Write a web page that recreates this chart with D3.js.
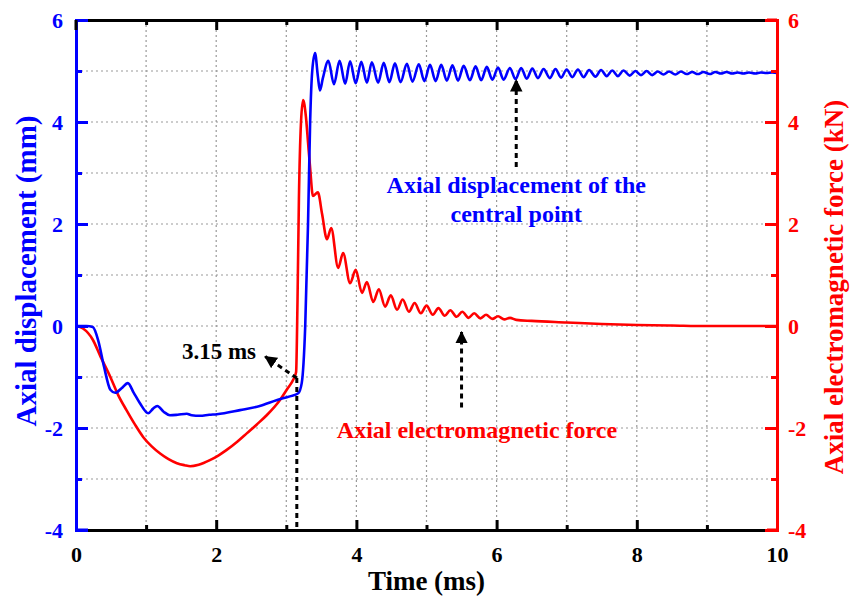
<!DOCTYPE html>
<html>
<head>
<meta charset="utf-8">
<script src="https://d3js.org/d3.v7.min.js"></script>
<style>
  body { margin: 0; background: #fff; }
  svg text { font-family: "Liberation Serif", "Times New Roman", serif; font-weight: bold; }
</style>
</head>
<body>
<div id="chart"></div>
<script>
// time ticks (ms) and value ticks shared by both y axes
var timeTicks = [0, 2, 4, 6, 8, 10];
var valueTicks = [-4, -2, 0, 2, 4, 6];

// axial displacement of the central point (mm)
var displacement = [
  [0, 0], [0.15, 0], [0.24, -0.02], [0.32, -0.3], [0.4, -0.8], [0.49, -1.25], [0.56, -1.31],
  [0.65, -1.22], [0.74, -1.12], [0.82, -1.3], [0.91, -1.51], [1.03, -1.71], [1.1, -1.62],
  [1.16, -1.57], [1.25, -1.68], [1.34, -1.75], [1.45, -1.74], [1.58, -1.72], [1.65, -1.75],
  [1.77, -1.76], [1.9, -1.74], [2.01, -1.73], [2.34, -1.65], [2.62, -1.57], [2.87, -1.45],
  [3.05, -1.38], [3.17, -1.32], [3.22, -1.12], [3.27, 0], [3.31, 2.0], [3.34, 4.0],
  [3.37, 5.0], [3.41, 5.35], [3.45, 4.9], [3.48, 4.62], [3.52, 4.85], [3.6, 5.2],
  [3.68, 4.74], [3.76, 5.2], [3.84, 4.75], [3.91, 5.19], [3.99, 4.76], [4.07, 5.18],
  [4.15, 4.77], [4.22, 5.17], [4.31, 4.77], [4.39, 5.16], [4.47, 4.78], [4.55, 5.15],
  [4.63, 4.78], [4.72, 5.14], [4.8, 4.79], [4.89, 5.13], [4.97, 4.8], [5.05, 5.12],
  [5.13, 4.8], [5.21, 5.12], [5.29, 4.81], [5.37, 5.11], [5.45, 4.81], [5.53, 5.1],
  [5.62, 4.82], [5.7, 5.09], [5.78, 4.82], [5.86, 5.08], [5.94, 4.83], [6.02, 5.07],
  [6.1, 4.83], [6.19, 5.06], [6.27, 4.84], [6.35, 5.06], [6.43, 4.85], [6.51, 5.05],
  [6.59, 4.86], [6.67, 5.04], [6.76, 4.86], [6.84, 5.04], [6.92, 4.87], [7.0, 5.03],
  [7.08, 4.88], [7.16, 5.03], [7.24, 4.88], [7.32, 5.02], [7.41, 4.89], [7.49, 5.02],
  [7.57, 4.9], [7.65, 5.01], [7.73, 4.9], [7.81, 5.01], [7.9, 4.91], [7.98, 5.0],
  [8.06, 4.92], [8.14, 5.0], [8.22, 4.92], [8.3, 4.99], [8.38, 4.93], [8.46, 4.99],
  [8.55, 4.93], [8.63, 4.99], [8.71, 4.94], [8.79, 4.98], [8.87, 4.94], [8.95, 4.98],
  [9.04, 4.94], [9.12, 4.98], [9.2, 4.95], [9.28, 4.98], [9.36, 4.95], [9.44, 4.97],
  [9.52, 4.95], [9.6, 4.97], [9.69, 4.95], [9.77, 4.97], [9.85, 4.96], [9.93, 4.97], [10, 4.96]
];

// axial electromagnetic force (kN)
var force = [
  [0, 0], [0.1, -0.05], [0.24, -0.27], [0.35, -0.6], [0.49, -1.0], [0.6, -1.35], [0.72, -1.65],
  [0.84, -1.93], [0.96, -2.18], [1.08, -2.36], [1.2, -2.5], [1.32, -2.61], [1.44, -2.69],
  [1.55, -2.73], [1.63, -2.75], [1.75, -2.72], [1.91, -2.63], [2.03, -2.54], [2.15, -2.43],
  [2.3, -2.27], [2.44, -2.1], [2.58, -1.93], [2.72, -1.75], [2.91, -1.45], [3.02, -1.22],
  [3.1, -1.05], [3.14, -0.9], [3.16, 0.5], [3.18, 2.5], [3.21, 4.0], [3.24, 4.43],
  [3.28, 4.1], [3.31, 3.6], [3.34, 3.1], [3.38, 2.55], [3.45, 2.62], [3.51, 2.2],
  [3.58, 1.7], [3.64, 1.92], [3.74, 1.14], [3.81, 1.43], [3.91, 0.84], [3.99, 1.1],
  [4.08, 0.65], [4.15, 0.86], [4.24, 0.47], [4.32, 0.72], [4.41, 0.38], [4.49, 0.6],
  [4.58, 0.32], [4.66, 0.52], [4.75, 0.28], [4.83, 0.45], [4.92, 0.25], [5.0, 0.4],
  [5.09, 0.22], [5.17, 0.35], [5.26, 0.2], [5.34, 0.31], [5.43, 0.18], [5.51, 0.28],
  [5.6, 0.16], [5.68, 0.25], [5.77, 0.15], [5.85, 0.22], [5.94, 0.14], [6.02, 0.19],
  [6.11, 0.13], [6.19, 0.16], [6.28, 0.12], [6.5, 0.1], [7.0, 0.07], [7.5, 0.04],
  [8.0, 0.02], [8.5, 0.01], [9.0, 0], [10, 0]
];

var W = 856, H = 603;
var m = { left: 76, top: 20, right: 79, bottom: 73 };
var iw = W - m.left - m.right, ih = H - m.top - m.bottom;
var BLUE = "#0000ff", RED = "#ff0000";
var FONT = "'Liberation Serif', 'Times New Roman', serif";

var svg = d3.select("#chart").append("svg").attr("width", W).attr("height", H);
var g = svg.append("g").attr("transform", "translate(" + m.left + "," + m.top + ")");

var x = d3.scaleLinear().domain([0, 10]).range([0, iw]);
var y = d3.scaleLinear().domain([-4, 6]).range([ih, 0]);   // mm, left
var y2 = d3.scaleLinear().domain([-4, 6]).range([ih, 0]);  // kN, right
var fmt = function(d) { return String(d); };

// dotted grid
var grid = g.append("g").attr("stroke", "#999").attr("stroke-width", 1.2).attr("stroke-dasharray", "2,3");
d3.range(1, 10).forEach(function(t) {
  grid.append("line").attr("x1", x(t)).attr("x2", x(t)).attr("y1", 0).attr("y2", ih);
});
d3.range(-3, 6).forEach(function(v) {
  grid.append("line").attr("x1", 0).attr("x2", iw).attr("y1", y(v)).attr("y2", y(v));
});

// curves
var line = d3.line().curve(d3.curveMonotoneX).x(function(d) { return x(d[0]); });
g.append("path").datum(force).attr("fill", "none").attr("stroke", RED).attr("stroke-width", 2.6)
  .attr("d", line.y(function(d) { return y2(d[1]); }));
g.append("path").datum(displacement).attr("fill", "none").attr("stroke", BLUE).attr("stroke-width", 2.6)
  .attr("d", line.y(function(d) { return y(d[1]); }));

// axes: bottom and top black, left blue, right red, inward ticks
var xb = g.append("g").attr("transform", "translate(0," + ih + ")")
  .call(d3.axisBottom(x).tickValues(timeTicks).tickSize(-10).tickPadding(16).tickFormat(fmt));
var xminor = g.append("g").attr("transform", "translate(0," + ih + ")")
  .call(d3.axisBottom(x).tickValues([1, 3, 5, 7, 9]).tickSize(-5).tickFormat(""));
var xt = g.append("g").call(d3.axisTop(x).tickValues(timeTicks).tickSize(-10).tickFormat(""));
var xtm = g.append("g").call(d3.axisTop(x).tickValues([1, 3, 5, 7, 9]).tickSize(-5).tickFormat(""));
[xb, xminor, xt, xtm].forEach(function(a) {
  a.select(".domain").attr("stroke", "#000").attr("stroke-width", 3);
  a.selectAll(".tick line").attr("stroke", "#000").attr("stroke-width", 3);
});
xb.selectAll(".tick text").attr("fill", "#000").attr("font-size", 22).attr("font-family", FONT);

var yl = g.append("g").call(d3.axisLeft(y).tickValues(valueTicks).tickSize(-12).tickPadding(13).tickFormat(fmt));
var ylm = g.append("g").call(d3.axisLeft(y).tickValues([-3, -1, 1, 3, 5]).tickSize(-6).tickFormat(""));
[yl, ylm].forEach(function(a) {
  a.select(".domain").attr("stroke", BLUE).attr("stroke-width", 3);
  a.selectAll(".tick line").attr("stroke", BLUE).attr("stroke-width", 3);
});
yl.selectAll(".tick text").attr("fill", BLUE).attr("font-size", 22).attr("dy", "0.36em").attr("font-family", FONT);

var yr = g.append("g").attr("transform", "translate(" + iw + ",0)")
  .call(d3.axisRight(y2).tickValues(valueTicks).tickSize(-12).tickPadding(11).tickFormat(fmt));
var yrm = g.append("g").attr("transform", "translate(" + iw + ",0)")
  .call(d3.axisRight(y2).tickValues([-3, -1, 1, 3, 5]).tickSize(-6).tickFormat(""));
[yr, yrm].forEach(function(a) {
  a.select(".domain").attr("stroke", RED).attr("stroke-width", 3);
  a.selectAll(".tick line").attr("stroke", RED).attr("stroke-width", 3);
});
yr.selectAll(".tick text").attr("fill", RED).attr("font-size", 22).attr("dy", "0.36em").attr("font-family", FONT);

// corner pieces of the frame
var corner = g.append("g").attr("stroke-width", 3).attr("fill", "none");
corner.append("path").attr("stroke", "#000").attr("d", "M0,0 V10");
corner.append("path").attr("stroke", BLUE).attr("d", "M0," + ih + " H12");
corner.append("path").attr("stroke", RED).attr("d", "M" + (iw - 10) + ",0 H" + iw);
corner.append("path").attr("stroke", RED).attr("d", "M" + (iw - 10) + "," + ih + " H" + iw);

// axis titles
svg.append("text").attr("x", m.left + iw / 2).attr("y", 590).attr("text-anchor", "middle")
  .attr("font-size", 27).attr("fill", "#000").text("Time (ms)");
svg.append("text").attr("transform", "translate(36," + (m.top + ih / 2 - 4) + ") rotate(-90)")
  .attr("text-anchor", "middle").attr("font-size", 29).attr("fill", BLUE).text("Axial displacement (mm)");
svg.append("text").attr("transform", "translate(843," + (m.top + ih / 2 + 12) + ") rotate(-90)")
  .attr("text-anchor", "middle").attr("font-size", 27).attr("fill", RED).text("Axial electromagnetic force (kN)");

// annotations
svg.append("defs").append("marker").attr("id", "head").attr("viewBox", "0 0 10 10")
  .attr("refX", 9).attr("refY", 5).attr("markerWidth", 4.2).attr("markerHeight", 4.2)
  .attr("markerUnits", "strokeWidth").attr("orient", "auto")
  .append("path").attr("d", "M0,0 L10,5 L0,10 Z").attr("fill", "#000");

function dashed(x1, y1, x2, y2, arrow) {
  var l = g.append("line").attr("x1", x1).attr("y1", y1).attr("x2", x2).attr("y2", y2)
    .attr("stroke", "#000").attr("stroke-width", 3).attr("stroke-dasharray", "5,4");
  if (arrow) l.attr("marker-end", "url(#head)");
}
// 3.15 ms marker
dashed(x(3.15), y2(-1.02), x(3.15), ih, false);
dashed(x(3.15), y2(-1.02), x(2.7), y2(-0.6), true);
g.append("text").attr("x", x(2.04)).attr("y", y(-0.64)).attr("text-anchor", "middle")
  .attr("font-size", 23).attr("fill", "#000").text("3.15 ms");

// displacement label
dashed(x(6.28), y(3.12), x(6.28), y(4.82), true);
g.append("text").attr("x", x(6.28)).attr("y", y(2.61)).attr("text-anchor", "middle")
  .attr("font-size", 24).attr("fill", BLUE).text("Axial displacement of the");
g.append("text").attr("x", x(6.28)).attr("y", y(2.04)).attr("text-anchor", "middle")
  .attr("font-size", 24).attr("fill", BLUE).text("central point");

// force label
dashed(x(5.5), y2(-1.6), x(5.5), y2(-0.12), true);
g.append("text").attr("x", x(5.72)).attr("y", y2(-2.2)).attr("text-anchor", "middle")
  .attr("font-size", 24).attr("fill", RED).text("Axial electromagnetic force");
</script>
</body>
</html>
